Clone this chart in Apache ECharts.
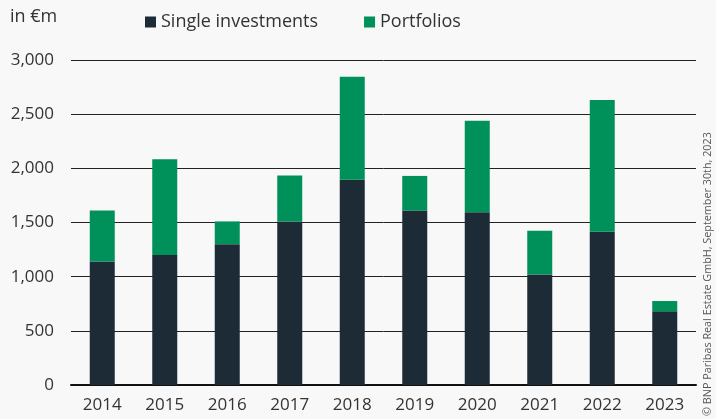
<!DOCTYPE html>
<html>
<head>
<meta charset="utf-8">
<script src="https://cdn.jsdelivr.net/npm/echarts@6/dist/echarts.min.js"></script>
<style>
html, body { margin: 0; padding: 0; background: #f8f8f8; }
#chart { width: 716px; height: 419px; }
</style>
</head>
<body>
<div id="chart"></div>
<script>
// data (€m)
var years = ['2014', '2015', '2016', '2017', '2018', '2019', '2020', '2021', '2022', '2023'];
var singleInvestments = [1140, 1200, 1300, 1510, 1895, 1610, 1595, 1020, 1415, 680];
var portfolios = [470, 885, 210, 425, 950, 320, 845, 405, 1215, 95];
var yTicks = [0, 500, 1000, 1500, 2000, 2500, 3000];

var chart = echarts.init(document.getElementById('chart'));

var font = 'Open Sans';

var option = {
    backgroundColor: '#f8f8f8',
    animation: false,
    textStyle: { fontFamily: font },
    legend: {
        left: 140,
        top: 8,
        itemWidth: 11,
        itemHeight: 11,
        itemGap: 46,
        icon: 'rect',
        textStyle: { fontSize: 18, color: '#333', fontFamily: font },
        data: ['Single investments', 'Portfolios']
    },
    graphic: [
        {
            type: 'text',
            left: 10,
            top: 8,
            style: { text: 'in €m', fontSize: 18, fill: '#333', fontFamily: font }
        },
        {
            type: 'text',
            x: 702,
            y: 416,
            rotation: Math.PI / 2,
            style: {
                text: '© BNP Paribas Real Estate GmbH, September 30th, 2023',
                fontSize: 10.8,
                fill: '#555',
                fontFamily: font
            }
        }
    ],
    grid: { left: 71, right: 20, top: 60, bottom: 34 },
    xAxis: {
        type: 'category',
        data: years,
        axisTick: { show: false },
        axisLine: { lineStyle: { color: '#111', width: 2 } },
        axisLabel: { fontSize: 17, color: '#333', margin: 12, fontFamily: font }
    },
    yAxis: {
        type: 'value',
        min: yTicks[0],
        max: yTicks[yTicks.length - 1],
        interval: 500,
        axisLine: { show: false },
        axisTick: { show: false },
        splitLine: { lineStyle: { color: '#222', width: 1 } },
        axisLabel: {
            fontSize: 17,
            color: '#333',
            margin: 17,
            fontFamily: font,
            formatter: function (v) { return v.toLocaleString('en-US'); }
        }
    },
    series: [
        {
            name: 'Single investments',
            type: 'bar',
            stack: 'total',
            barWidth: 25,
            itemStyle: { color: '#1c2b36' },
            data: singleInvestments
        },
        {
            name: 'Portfolios',
            type: 'bar',
            stack: 'total',
            barWidth: 25,
            itemStyle: { color: '#00905a' },
            data: portfolios
        }
    ]
};

chart.setOption(option);
</script>
</body>
</html>
